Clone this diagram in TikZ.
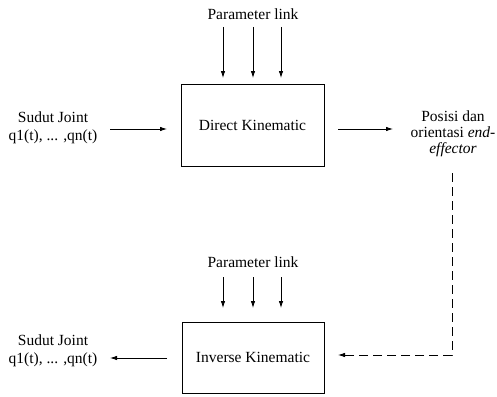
\documentclass[tikz,border=0pt]{standalone}
\usepackage{fontspec}
\setmainfont{Liberation Serif}
\usetikzlibrary{arrows.meta}
\begin{document}
\begin{tikzpicture}[x=1pt,y=-1pt,
  every node/.style={font=\fontsize{15.5}{18}\selectfont, inner sep=0pt},
  blk/.style={draw, line width=0.8pt, minimum width=143pt, minimum height=82pt},
  arr/.style={line width=0.8pt, -{Latex[length=7pt,width=4.5pt]}},
  dsh/.style={line width=0.8pt, dash pattern=on 9pt off 5pt, -{Latex[length=7pt,width=4.5pt]}},
  lbl/.style={align=center}]
\useasboundingbox (0,0) rectangle (497,396);
% top part
\node (p1) at (253,14) {Parameter link};
\node[blk] (dk) at (252.5,125) {Direct Kinematic};
\node[lbl] (in1) at (53,128) {Sudut Joint\\q1(t), ... ,qn(t)};
\node[lbl, font=\fontsize{15.5}{16}\selectfont] (out1) at (453,134) {Posisi dan\\orientasi \textit{end-}\\\textit{effector}};
\coordinate (a1s) at (223,27); \coordinate (a1e) at (223,78);
\coordinate (a2s) at (253,27); \coordinate (a2e) at (253,78);
\coordinate (a3s) at (281,27); \coordinate (a3e) at (281,78);
\draw[arr] (a1s) -- (a1e);
\draw[arr] (a2s) -- (a2e);
\draw[arr] (a3s) -- (a3e);
\coordinate (l1s) at (110,129); \coordinate (l1e) at (167,129);
\draw[arr] (l1s) -- (l1e);
\coordinate (r1s) at (338,129); \coordinate (r1e) at (393,129);
\draw[arr] (r1s) -- (r1e);
% bottom part
\node (p2) at (253,262) {Parameter link};
\node[blk, minimum width=142pt, minimum height=71pt] (ik) at (253,357.5) {Inverse Kinematic};
\node[lbl] (in2) at (53,351) {Sudut Joint\\q1(t), ... ,qn(t)};
\coordinate (b1s) at (223,277); \coordinate (b1e) at (223,308);
\coordinate (b2s) at (253,277); \coordinate (b2e) at (253,308);
\coordinate (b3s) at (281,277); \coordinate (b3e) at (281,308);
\draw[arr] (b1s) -- (b1e);
\draw[arr] (b2s) -- (b2e);
\draw[arr] (b3s) -- (b3e);
\coordinate (l2s) at (167,358); \coordinate (l2e) at (110,358);
\draw[arr] (l2s) -- (l2e);
% dashed feedback
\coordinate (ds) at (452,173); \coordinate (dc) at (452,355); \coordinate (de) at (338,355);
\draw[dsh] (ds) -- (dc) -- (de);
\end{tikzpicture}
\end{document}
